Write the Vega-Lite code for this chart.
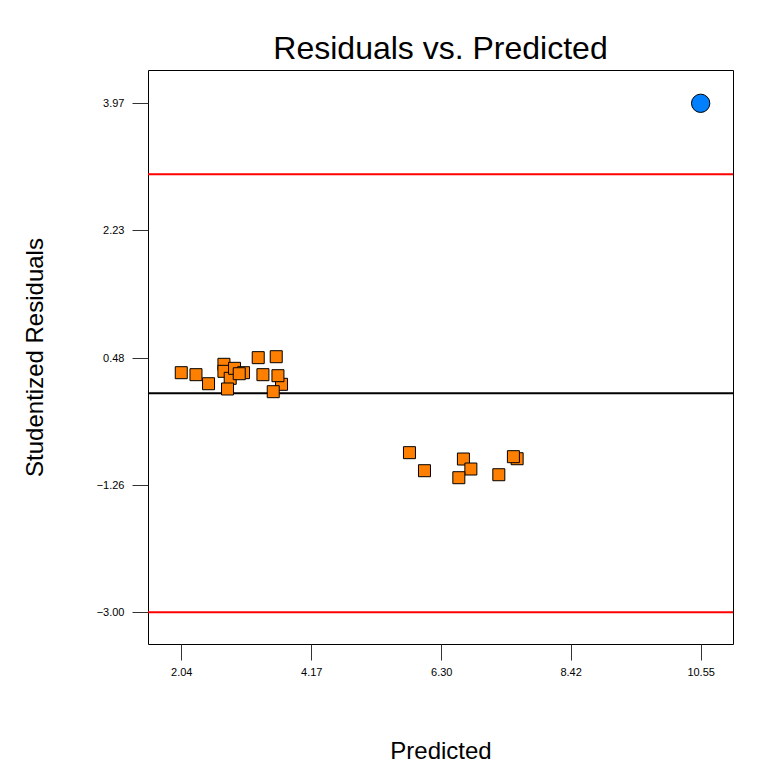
{
  "$schema": "https://vega.github.io/schema/vega-lite/v6.json",
  "width": 585,
  "height": 574,
  "autosize": {"type": "none"},
  "padding": {"left": 148, "top": 70, "right": 45, "bottom": 128},
  "background": "white",
  "title": {
    "text": "Residuals vs. Predicted",
    "font": "Liberation Sans",
    "fontSize": 32,
    "fontWeight": "normal",
    "color": "black",
    "anchor": "middle",
    "offset": 4
  },
  "datasets": {
    "points": [
      {"predicted": 7.543, "residual": -0.897, "kind": "normal"},
      {"predicted": 2.04, "residual": 0.281, "kind": "normal"},
      {"predicted": 2.281, "residual": 0.254, "kind": "normal"},
      {"predicted": 2.487, "residual": 0.130, "kind": "normal"},
      {"predicted": 2.739, "residual": 0.396, "kind": "normal"},
      {"predicted": 2.739, "residual": 0.300, "kind": "normal"},
      {"predicted": 2.842, "residual": 0.204, "kind": "normal"},
      {"predicted": 2.798, "residual": 0.058, "kind": "normal"},
      {"predicted": 2.913, "residual": 0.341, "kind": "normal"},
      {"predicted": 3.060, "residual": 0.281, "kind": "normal"},
      {"predicted": 2.990, "residual": 0.267, "kind": "normal"},
      {"predicted": 3.301, "residual": 0.487, "kind": "normal"},
      {"predicted": 3.596, "residual": 0.500, "kind": "normal"},
      {"predicted": 3.378, "residual": 0.254, "kind": "normal"},
      {"predicted": 3.683, "residual": 0.122, "kind": "normal"},
      {"predicted": 3.624, "residual": 0.240, "kind": "normal"},
      {"predicted": 3.547, "residual": 0.021, "kind": "normal"},
      {"predicted": 5.779, "residual": -0.814, "kind": "normal"},
      {"predicted": 6.025, "residual": -1.061, "kind": "normal"},
      {"predicted": 6.663, "residual": -0.901, "kind": "normal"},
      {"predicted": 6.785, "residual": -1.038, "kind": "normal"},
      {"predicted": 6.588, "residual": -1.157, "kind": "normal"},
      {"predicted": 7.243, "residual": -1.116, "kind": "normal"},
      {"predicted": 7.482, "residual": -0.869, "kind": "normal"}
    ],
    "outlier": [
      {"predicted": 10.55, "residual": 3.97}
    ],
    "limits": [
      {"level": 3.0, "type": "limit"},
      {"level": -3.0, "type": "limit"}
    ],
    "zero": [
      {"level": 0.0}
    ]
  },
  "layer": [
    {
      "data": {"name": "limits"},
      "mark": {"type": "rule", "color": "#FF0000", "strokeWidth": 2},
      "encoding": {
        "y": {"field": "level", "type": "quantitative", "scale": {"domain": [-3.434, 4.426], "nice": false, "zero": false}}
      }
    },
    {
      "data": {"name": "zero"},
      "mark": {"type": "rule", "color": "black", "strokeWidth": 2},
      "encoding": {
        "y": {"field": "level", "type": "quantitative"}
      }
    },
    {
      "data": {"name": "points"},
      "mark": {"type": "point", "shape": "square", "filled": true, "fill": "#FF8000", "stroke": "black", "strokeWidth": 1, "size": 144, "opacity": 1},
      "encoding": {
        "x": {
          "field": "predicted",
          "type": "quantitative",
          "title": "Predicted",
          "scale": {"domain": [1.495, 11.08], "nice": false, "zero": false},
          "axis": {
            "values": [2.04, 4.17, 6.30, 8.42, 10.55],
            "format": ".2f",
            "tickSize": 16,
            "labelPadding": 6,
            "titlePadding": 62
          }
        },
        "y": {
          "field": "residual",
          "type": "quantitative",
          "title": "Studentized Residuals",
          "axis": {
            "values": [-3.00, -1.26, 0.48, 2.23, 3.97],
            "format": ".2f",
            "tickSize": 16,
            "labelPadding": 8,
            "titlePadding": 49
          }
        }
      }
    },
    {
      "data": {"name": "outlier"},
      "mark": {"type": "point", "shape": "circle", "filled": true, "fill": "#0080FF", "stroke": "black", "strokeWidth": 1, "size": 336, "opacity": 1},
      "encoding": {
        "x": {"field": "predicted", "type": "quantitative"},
        "y": {"field": "residual", "type": "quantitative"}
      }
    }
  ],
  "config": {
    "view": {"stroke": "black", "strokeWidth": 1},
    "axis": {
      "grid": false,
      "domain": false,
      "tickColor": "#333333",
      "tickWidth": 1,
      "labelFont": "Liberation Sans",
      "labelFontSize": 11,
      "labelColor": "black",
      "titleFont": "Liberation Sans",
      "titleFontSize": 24,
      "titleFontWeight": "normal",
      "titleColor": "black"
    }
  }
}
